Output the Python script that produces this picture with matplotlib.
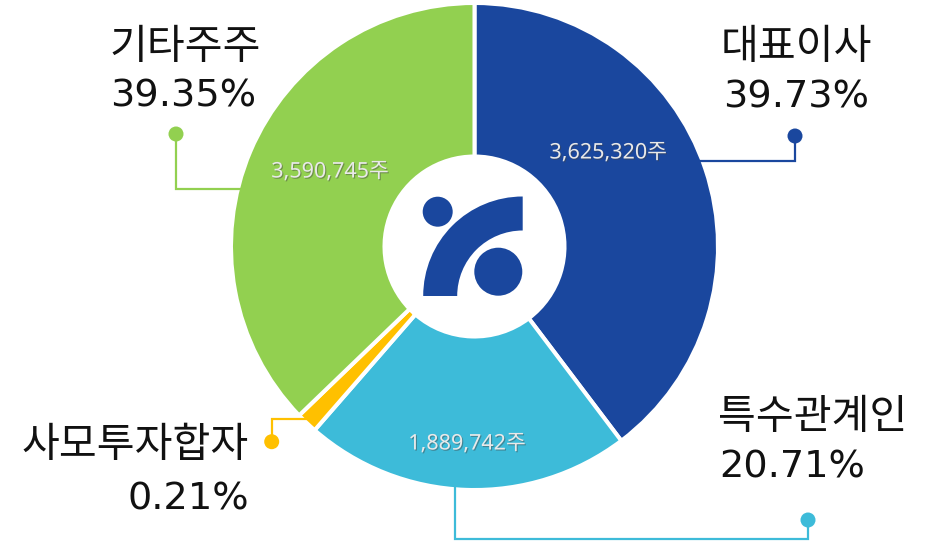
import matplotlib
matplotlib.use('Agg')
import matplotlib.pyplot as plt
from matplotlib.patches import Circle, Wedge
import matplotlib.patheffects as pe

# ---- data ----
categories = ['대표이사', '특수관계인', '사모투자합자', '기타주주']
percent_labels = ['39.73%', '20.71%', '0.21%', '39.35%']
share_counts = ['3,625,320주', '1,889,742주', '', '3,590,745주']
# slice sizes as drawn in the reference (small slice is visually enlarged there)
slice_sizes = [39.7, 21.7, 1.4, 37.2]
colors = ['#1a479e', '#3dbbd9', '#ffc000', '#92d050']

W, H = 926, 543
fig = plt.figure(figsize=(W / 100, H / 100), dpi=100)
ax = fig.add_axes([0, 0, 1, 1])


def Y(p):
    return H - p


KR = ['Noto Sans CJK KR', 'DejaVu Sans']
LAT = ['Noto Sans', 'Noto Sans CJK KR', 'DejaVu Sans']
NUM = ['DejaVu Sans']

cx, cy, R, r_in = 474.5, Y(246.5), 243.5, 90
ax.pie(slice_sizes, colors=colors, startangle=90, counterclock=False,
       radius=R, center=(cx, cy), frame=True,
       wedgeprops=dict(width=R - r_in, edgecolor='white', linewidth=2.9))
ax.set_xlim(0, W)
ax.set_ylim(0, H)
ax.set_aspect('equal')
ax.axis('off')

# ---- logo in center ----
logo = colors[0]
lcx, lcy = 522.7, Y(296)
ax.add_patch(Wedge((lcx, lcy), 99.5, 90, 180, width=34, color=logo, lw=0))
ax.add_patch(Circle((437.7, Y(211.7)), 15, color=logo, lw=0))
ax.add_patch(Circle((498.3, Y(271.7)), 24, color=logo, lw=0))

# ---- value labels inside slices ----
val_pos = [(608, 153), (467, 444), None, (330, 172)]
shadow = [pe.withSimplePatchShadow(offset=(0.8, -0.8), shadow_rgbFace='#444444', alpha=0.45)]
for txt, pos in zip(share_counts, val_pos):
    if pos is None or not txt:
        continue
    ax.text(pos[0], Y(pos[1]), txt, ha='center', va='center', fontsize=15.5,
            color='#e9e9e9', family=LAT, fontweight=300, path_effects=shadow)

# ---- category labels + leader lines ----
lw = 1.6
label_spec = [
    # name center pos, pct baseline pos, ha, line path (dot first)
    ((721, 48), (723, 107.3), 'left', [(795, 136), (795, 160.7), (700, 160.7)]),
    ((718, 418), (719, 477.3), 'left', [(808, 520), (808, 539), (455, 539), (455, 487)]),
    ((249, 445.5), (249, 510), 'right', [(271.7, 441.7), (271.7, 419), (307, 419)]),
    ((109, 47.5), (110, 106.7), 'left', [(176, 134), (176, 189), (240, 189)]),
]
for name, pct, col, (npos, ppos, ha, path) in zip(categories, percent_labels, colors, label_spec):
    ax.text(npos[0], Y(npos[1]), name, ha=ha, va='center', fontsize=29.6,
            color='#111111', family=KR)
    ax.text(ppos[0], Y(ppos[1]), pct, ha=ha, va='baseline', fontsize=27.5,
            color='#111111', family=NUM)
    xs = [p[0] for p in path]
    ys = [Y(p[1]) for p in path]
    ax.plot(xs, ys, color=col, lw=lw, solid_joinstyle='miter', zorder=1)
    ax.add_patch(Circle((xs[0], ys[0]), 7.5, color=col, lw=0, zorder=3))

fig.savefig('out.png', dpi=100)
